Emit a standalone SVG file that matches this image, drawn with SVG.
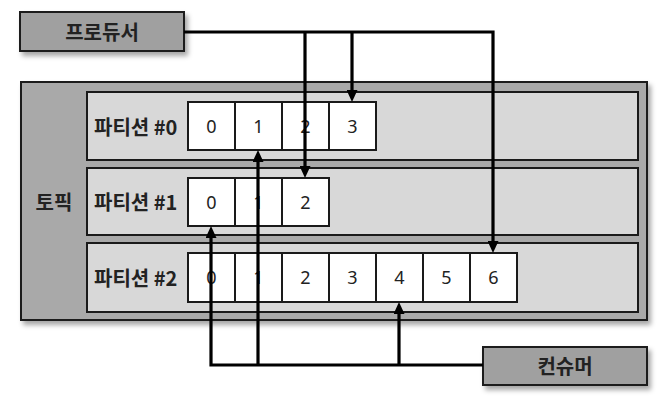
<svg xmlns="http://www.w3.org/2000/svg" width="665" height="406" viewBox="0 0 665 406">
<style>
.box{stroke:#1a1a1a;stroke-width:2}
.dark{fill:#a0a0a0}
.topic{fill:#a9a9a9}
.row{fill:#d8d8d8}
.cell{fill:#ffffff;stroke:#1a1a1a;stroke-width:2}
.lbl{font-family:"Noto Sans CJK KR","Noto Sans",sans-serif;font-weight:bold;font-size:20px;fill:#222;dominant-baseline:central}
.num{font-family:"Noto Sans","Noto Sans CJK KR",sans-serif;font-size:18px;fill:#222;text-anchor:middle;dominant-baseline:central}
.conn{fill:none;stroke:#000;stroke-width:3.2;marker-end:url(#arr)}
</style>
<defs>
<filter id="sh" x="-10%" y="-10%" width="125%" height="140%">
<feDropShadow dx="3" dy="4" stdDeviation="2.5" flood-color="#000" flood-opacity="0.35"/>
</filter>
<marker id="arr" viewBox="0 0 12 11" markerWidth="12" markerHeight="11" refX="1" refY="5.5" orient="auto" markerUnits="userSpaceOnUse">
<path d="M0,0 L12,5.5 L0,11 z" fill="#000"/>
</marker>
</defs>

<g id="producer">
<rect class="box dark" x="20" y="12" width="164" height="39" filter="url(#sh)"/>
<text class="lbl" x="102" y="31" text-anchor="middle">프로듀서</text>
</g>

<g id="topic">
<rect class="box topic" x="21" y="82" width="626" height="238" filter="url(#sh)"/>
<text class="lbl" x="54" y="201" text-anchor="middle">토픽</text>
</g>

<g id="partition0">
<rect class="box row" x="87" y="92" width="551" height="68"/>
<text class="lbl" x="94" y="126">파티션 #0</text>
<rect class="cell" x="188" y="102" width="47" height="48"/>
<rect class="cell" x="235" y="102" width="47" height="48"/>
<rect class="cell" x="282" y="102" width="47" height="48"/>
<rect class="cell" x="329" y="102" width="47" height="48"/>
<text class="num" x="211.5" y="126">0</text>
<text class="num" x="258.5" y="126">1</text>
<text class="num" x="305.5" y="126">2</text>
<text class="num" x="352.5" y="126">3</text>
</g>

<g id="partition1">
<rect class="box row" x="87" y="168" width="551" height="67"/>
<text class="lbl" x="94" y="201">파티션 #1</text>
<rect class="cell" x="188" y="178" width="47" height="48"/>
<rect class="cell" x="235" y="178" width="47" height="48"/>
<rect class="cell" x="282" y="178" width="47" height="48"/>
<text class="num" x="211.5" y="202">0</text>
<text class="num" x="258.5" y="202">1</text>
<text class="num" x="305.5" y="202">2</text>
</g>

<g id="partition2">
<rect class="box row" x="87" y="243" width="551" height="69"/>
<text class="lbl" x="94" y="277">파티션 #2</text>
<rect class="cell" x="188" y="253" width="47" height="49"/>
<rect class="cell" x="235" y="253" width="47" height="49"/>
<rect class="cell" x="282" y="253" width="47" height="49"/>
<rect class="cell" x="329" y="253" width="47" height="49"/>
<rect class="cell" x="376" y="253" width="47" height="49"/>
<rect class="cell" x="423" y="253" width="47" height="49"/>
<rect class="cell" x="470" y="253" width="47" height="49"/>
<text class="num" x="211.5" y="277">0</text>
<text class="num" x="258.5" y="277">1</text>
<text class="num" x="305.5" y="277">2</text>
<text class="num" x="352.5" y="277">3</text>
<text class="num" x="399.5" y="277">4</text>
<text class="num" x="446.5" y="277">5</text>
<text class="num" x="493.5" y="277">6</text>
</g>

<g id="consumer">
<rect class="box dark" x="483" y="347" width="164" height="38" filter="url(#sh)"/>
<text class="lbl" x="565" y="365" text-anchor="middle">컨슈머</text>
</g>

<g id="connectors">
<path class="conn" d="M184,32 H493 V242"/>
<path class="conn" d="M305,32 V167"/>
<path class="conn" d="M352,32 V91"/>
<path class="conn" d="M483,365 H211 V237"/>
<path class="conn" d="M258,365 V161"/>
<path class="conn" d="M399,365 V313"/>
</g>
</svg>
